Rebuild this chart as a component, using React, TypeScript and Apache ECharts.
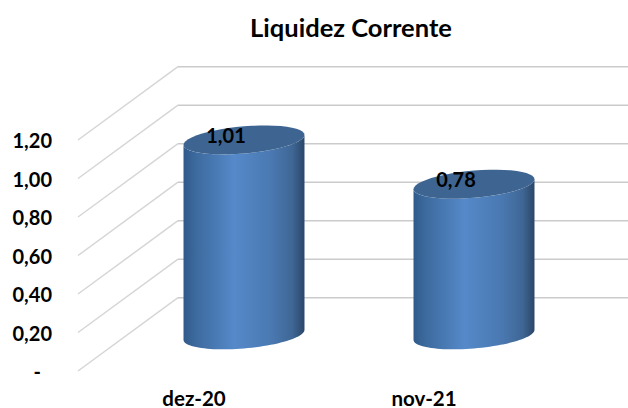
import React, { useEffect, useRef } from "react";
import * as echarts from "echarts";

const categories = ["dez-20", "nov-21"];
const values = [1.01, 0.78];
const yTicks = [0, 0.2, 0.4, 0.6, 0.8, 1.0, 1.2];
const titleText = "Liquidez Corrente";

const FONT = "Lato, Carlito, 'Open Sans', sans-serif";
const fmt = (v: number) => v.toFixed(2).replace(".", ",");

// perspective of the chart's floor: back wall offset from the front plane
const DEPTH_X = 100;
const DEPTH_Y = -73.3;

function renderWall(params: any, api: any) {
  const v = api.value(1);
  const cs = params.coordSys;
  const p = api.coord([0, v]);
  const fx = cs.x - 1;
  const fy = p[1];
  const bx = fx + DEPTH_X;
  const by = fy + DEPTH_Y;
  const right = api.getWidth();
  return {
    type: "group",
    children: [
      {
        type: "line",
        shape: { x1: fx, y1: fy, x2: bx, y2: by },
        style: { stroke: "#d6d6d6", lineWidth: 1.5 },
      },
      {
        type: "line",
        shape: { x1: bx, y1: by, x2: right, y2: by },
        style: { stroke: "#cbcbcb", lineWidth: 1.5 },
      },
    ],
  };
}

function arcPoints(cx: number, cy: number, a: number, b: number, s: number, from: number, to: number) {
  const pts: number[][] = [];
  const n = 48;
  for (let i = 0; i <= n; i++) {
    const t = from + ((to - from) * i) / n;
    pts.push([cx + a * Math.cos(t), cy + b * Math.sin(t) + s * Math.cos(t)]);
  }
  return pts;
}

function renderCylinder(_params: any, api: any) {
  const i = api.value(0);
  const v = api.value(1);
  const base = api.coord([i, 0]);
  const top = api.coord([i, v]);
  const cx = base[0] + DEPTH_X / 2;
  const by = base[1] + DEPTH_Y / 2 + 0.5;
  const ty = top[1] + DEPTH_Y / 2;
  const a = api.size([1, 0])[0] * 0.263;
  const b = 13.6;
  const s = -5;
  // front edge of bottom ellipse, left to right, then back over the top's front edge
  const bottom = arcPoints(cx, by, a, b, s, Math.PI, 0);
  const topFront = arcPoints(cx, ty, a, b, s, 0, Math.PI);
  const body = [...bottom, ...topFront];
  const lid = arcPoints(cx, ty, a, b, s, 0, Math.PI * 2);
  return {
    type: "group",
    children: [
      {
        type: "polygon",
        shape: { points: body },
        style: {
          fill: new echarts.graphic.LinearGradient(0, 0, 1, 0, [
            { offset: 0, color: "#2f5a8a" },
            { offset: 0.1, color: "#3d6a9e" },
            { offset: 0.42, color: "#5589c9" },
            { offset: 0.72, color: "#4a79b2" },
            { offset: 0.9, color: "#3f6795" },
            { offset: 1, color: "#2b4668" },
          ]),
        },
      },
      {
        type: "polygon",
        shape: { points: lid },
        style: { fill: "#3e6491" },
      },
      {
        type: "text",
        style: {
          text: fmt(v),
          x: cx - 18,
          y: ty - 5,
          align: "center",
          verticalAlign: "middle",
          font: `bold 20px ${FONT}`,
          fill: "#000000",
        },
      },
    ],
  };
}

export default function App() {
  const ref = useRef<HTMLDivElement>(null);
  useEffect(() => {
    const chart = echarts.init(ref.current!, null, { renderer: "svg" });
    chart.setOption({
      animation: false,
      backgroundColor: "#ffffff",
      title: {
        text: titleText,
        left: 346,
        top: 9,
        textAlign: "center",
        textStyle: { fontFamily: FONT, fontWeight: "bold", fontSize: 25.5, color: "#000000" },
      },
      grid: { left: 79, top: 140, width: 460, height: 232 },
      xAxis: {
        type: "category",
        data: categories,
        axisLine: { show: false },
        axisTick: { show: false },
        axisLabel: {
          margin: 16,
          fontFamily: FONT,
          fontWeight: "bold",
          fontSize: 20.5,
          color: "#000000",
        },
      },
      yAxis: {
        type: "value",
        min: 0,
        max: 1.2,
        interval: 0.2,
        axisLine: { show: false },
        axisTick: { show: false },
        splitLine: { show: false },
        axisLabel: {
          margin: 27,
          fontFamily: FONT,
          fontWeight: "bold",
          fontSize: 20,
          color: "#000000",
          formatter: (v: number) => (v === 0 ? "{dash|-}" : fmt(v)),
          rich: {
            dash: {
              fontFamily: FONT,
              fontWeight: "bold",
              fontSize: 20,
              color: "#000000",
              padding: [0, 11, 0, 0],
            },
          },
        },
      },
      series: [
        {
          type: "custom",
          z: 1,
          clip: false,
          silent: true,
          encode: { x: 0, y: 1 },
          data: yTicks.map((v) => [0, v]),
          renderItem: renderWall,
        },
        {
          type: "custom",
          z: 2,
          clip: false,
          encode: { x: 0, y: 1 },
          data: values.map((v, i) => [i, v]),
          renderItem: renderCylinder,
        },
      ],
    });
    return () => chart.dispose();
  }, []);
  return <div ref={ref} style={{ position: "absolute", left: 0, top: 0, width: 628, height: 408 }} />;
}
